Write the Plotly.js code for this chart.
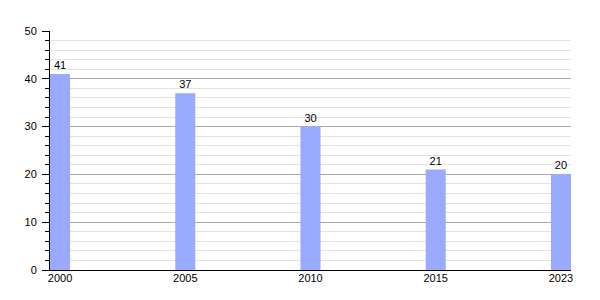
<!DOCTYPE html>
<html><head><meta charset="utf-8">
<script src="https://cdn.plot.ly/plotly-3.0.1.min.js"></script>
<style>html,body{margin:0;padding:0;background:#fff}#c{width:600px;height:300px}</style>
</head><body><div id="c"></div>
<script>
var years = ['2000', '2005', '2010', '2015', '2023'];
var values = [41, 37, 30, 21, 20];
var yTicks = [0, 10, 20, 30, 40, 50];

var trace = {
  type: 'bar',
  x: years,
  y: values,
  text: values.map(String),
  textposition: 'outside',
  cliponaxis: false,
  textfont: {family: 'Liberation Sans, Arial, sans-serif', size: 11, color: '#000'},
  marker: {color: '#99aaff', line: {width: 0}},
  width: 0.16,
  hoverinfo: 'none'
};

var layout = {
  width: 600, height: 300,
  margin: {l: 50, r: 29, t: 31, b: 30, pad: 0},
  paper_bgcolor: '#fff', plot_bgcolor: '#fff',
  showlegend: false,
  font: {family: 'Liberation Sans, Arial, sans-serif', size: 11, color: '#000'},
  xaxis: {
    type: 'category',
    range: [-0.08, 4.08],
    showline: true, linecolor: '#000', linewidth: 1,
    ticks: '', showgrid: false, zeroline: false,
    ticklabelstandoff: -2,
    tickfont: {size: 11, color: '#000'}
  },
  yaxis: {
    range: [0, 50],
    tickvals: yTicks,
    ticktext: yTicks.map(String),
    showline: true, linecolor: '#000', linewidth: 1,
    ticks: 'outside', ticklen: 7, tickcolor: '#000', tickwidth: 1,
    ticklabelstandoff: 3,
    showgrid: true, gridcolor: '#aaaaaa', gridwidth: 1,
    zeroline: false,
    tickfont: {size: 11, color: '#000'},
    minor: {dtick: 2, ticks: 'outside', ticklen: 4, tickcolor: '#000', showgrid: true, gridcolor: '#e4e4e4', gridwidth: 1}
  }
};

Plotly.newPlot('c', [trace], layout, {staticPlot: true, displayModeBar: false});
</script>
</body></html>
